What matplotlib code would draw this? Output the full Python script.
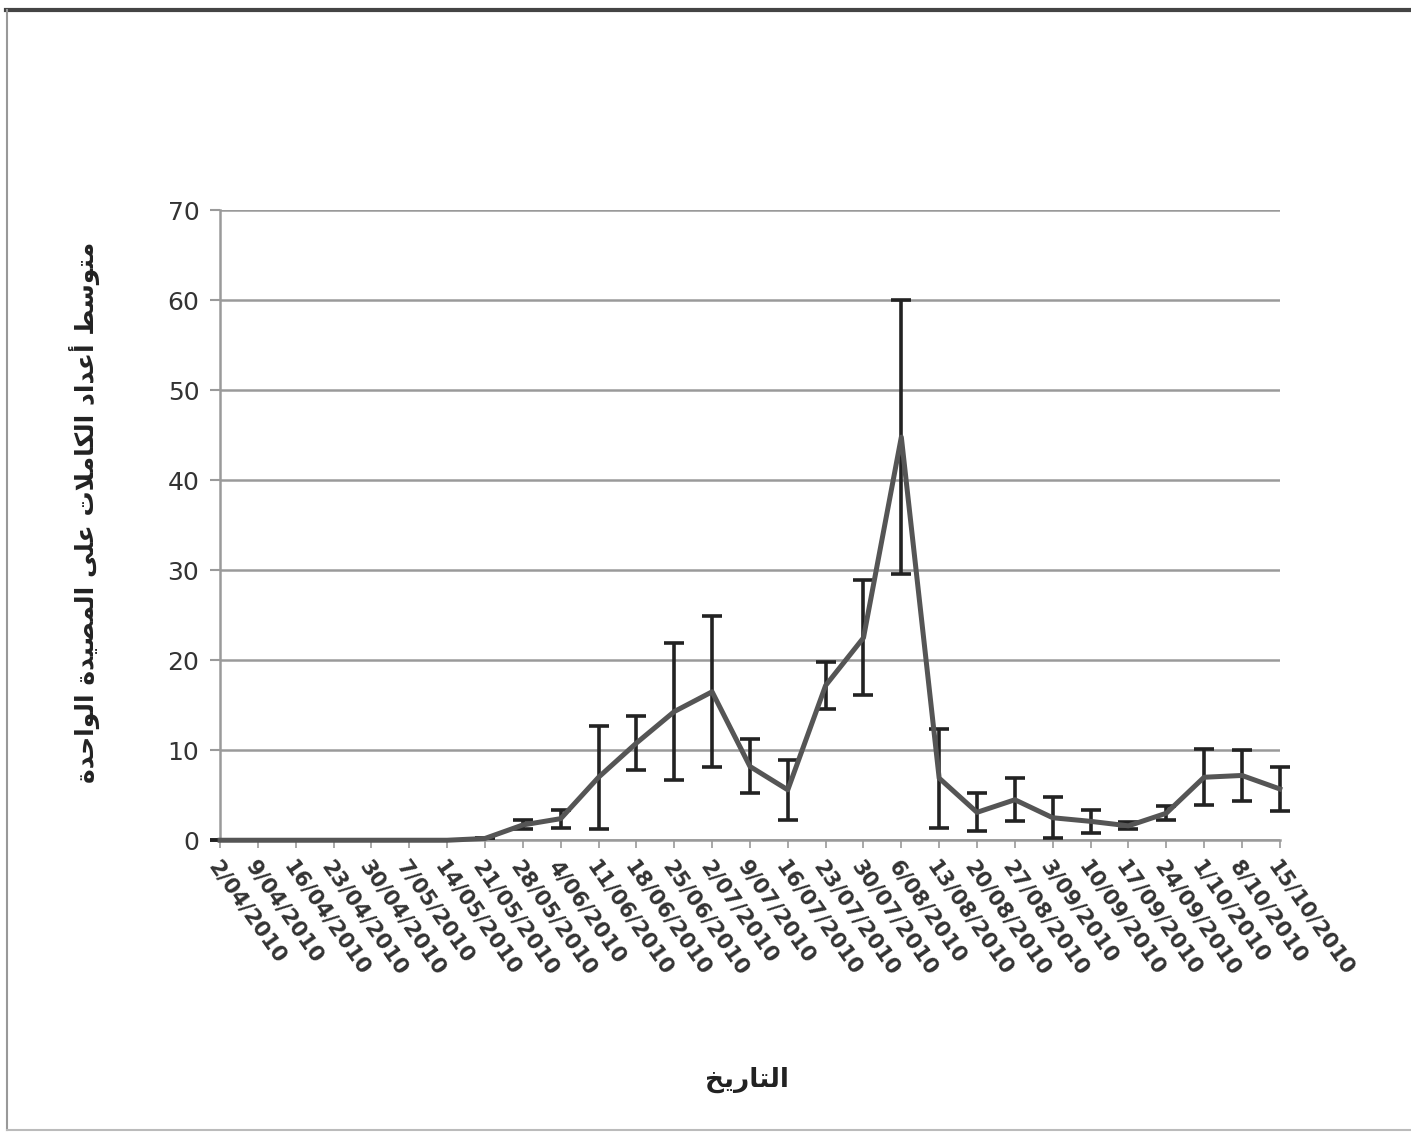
import matplotlib
matplotlib.use("Agg")
import matplotlib.pyplot as plt
from matplotlib.lines import Line2D

# ---------------- data ----------------
dates = ["2/04/2010", "9/04/2010", "16/04/2010", "23/04/2010", "30/04/2010",
         "7/05/2010", "14/05/2010", "21/05/2010", "28/05/2010", "4/06/2010",
         "11/06/2010", "18/06/2010", "25/06/2010", "2/07/2010", "9/07/2010",
         "16/07/2010", "23/07/2010", "30/07/2010", "6/08/2010", "13/08/2010",
         "20/08/2010", "27/08/2010", "3/09/2010", "10/09/2010", "17/09/2010",
         "24/09/2010", "1/10/2010", "8/10/2010", "15/10/2010"]
means = [0.0, 0.0, 0.0, 0.0, 0.0, 0.0, 0.0, 0.2, 1.7, 2.4,
         7.0, 10.8, 14.3, 16.5, 8.2, 5.6, 17.2, 22.5, 44.8, 6.9,
         3.1, 4.5, 2.5, 2.1, 1.6, 3.0, 7.0, 7.2, 5.7]
errors = [0.0, 0.0, 0.0, 0.0, 0.0, 0.0, 0.0, 0.0, 0.5, 1.0,
          5.7, 3.0, 7.6, 8.4, 3.0, 3.3, 2.6, 6.4, 15.2, 5.5,
          2.1, 2.4, 2.3, 1.3, 0.4, 0.8, 3.1, 2.8, 2.4]
yticks = [0, 10, 20, 30, 40, 50, 60, 70]
xlabel = "التاريخ"
ylabel = "متوسط أعداد الكاملات على المصيدة الواحدة"

# ------------- minimal Arabic shaping (for display) -------------
# letter: (isolated, final, initial, medial); 2-tuple = joins only to previous
FORMS = {
    "ا": (0xFE8D, 0xFE8E), "أ": (0xFE83, 0xFE84), "إ": (0xFE87, 0xFE88),
    "آ": (0xFE81, 0xFE82),
    "ب": (0xFE8F, 0xFE90, 0xFE91, 0xFE92), "ت": (0xFE95, 0xFE96, 0xFE97, 0xFE98),
    "ث": (0xFE99, 0xFE9A, 0xFE9B, 0xFE9C), "ج": (0xFE9D, 0xFE9E, 0xFE9F, 0xFEA0),
    "ح": (0xFEA1, 0xFEA2, 0xFEA3, 0xFEA4), "خ": (0xFEA5, 0xFEA6, 0xFEA7, 0xFEA8),
    "د": (0xFEA9, 0xFEAA), "ذ": (0xFEAB, 0xFEAC), "ر": (0xFEAD, 0xFEAE),
    "ز": (0xFEAF, 0xFEB0),
    "س": (0xFEB1, 0xFEB2, 0xFEB3, 0xFEB4), "ش": (0xFEB5, 0xFEB6, 0xFEB7, 0xFEB8),
    "ص": (0xFEB9, 0xFEBA, 0xFEBB, 0xFEBC), "ض": (0xFEBD, 0xFEBE, 0xFEBF, 0xFEC0),
    "ط": (0xFEC1, 0xFEC2, 0xFEC3, 0xFEC4), "ظ": (0xFEC5, 0xFEC6, 0xFEC7, 0xFEC8),
    "ع": (0xFEC9, 0xFECA, 0xFECB, 0xFECC), "غ": (0xFECD, 0xFECE, 0xFECF, 0xFED0),
    "ف": (0xFED1, 0xFED2, 0xFED3, 0xFED4), "ق": (0xFED5, 0xFED6, 0xFED7, 0xFED8),
    "ك": (0xFED9, 0xFEDA, 0xFEDB, 0xFEDC), "ل": (0xFEDD, 0xFEDE, 0xFEDF, 0xFEE0),
    "م": (0xFEE1, 0xFEE2, 0xFEE3, 0xFEE4), "ن": (0xFEE5, 0xFEE6, 0xFEE7, 0xFEE8),
    "ه": (0xFEE9, 0xFEEA, 0xFEEB, 0xFEEC), "ة": (0xFE93, 0xFE94),
    "و": (0xFEED, 0xFEEE), "ى": (0xFEEF, 0xFEF0),
    "ي": (0xFEF1, 0xFEF2, 0xFEF3, 0xFEF4),
}
LAM_ALEF = {"ا": (0xFEFB, 0xFEFC), "أ": (0xFEF7, 0xFEF8),
            "إ": (0xFEF9, 0xFEFA), "آ": (0xFEF5, 0xFEF6)}


def shape_arabic(text):
    units = []
    i = 0
    while i < len(text):
        c = text[i]
        if c == "ل" and i + 1 < len(text) and text[i + 1] in LAM_ALEF:
            units.append(("LA", text[i + 1]))
            i += 2
        else:
            units.append(("C", c))
            i += 1

    def joins_next(u):
        kind, c = u
        if kind == "LA":
            return False
        return c in FORMS and len(FORMS[c]) == 4

    def joins_prev(u):
        kind, c = u
        if kind == "LA":
            return True
        return c in FORMS

    out = []
    for k, u in enumerate(units):
        prev = units[k - 1] if k > 0 else None
        nxt = units[k + 1] if k + 1 < len(units) else None
        p = prev is not None and joins_next(prev) and joins_prev(u)
        n = nxt is not None and joins_next(u) and joins_prev(nxt)
        kind, c = u
        if kind == "LA":
            iso, fin = LAM_ALEF[c]
            out.append(chr(fin if p else iso))
            continue
        if c not in FORMS:
            out.append(c)
            continue
        f = FORMS[c]
        if len(f) == 2:
            out.append(chr(f[1] if p else f[0]))
        else:
            if p and n:
                out.append(chr(f[3]))
            elif p:
                out.append(chr(f[1]))
            elif n:
                out.append(chr(f[2]))
            else:
                out.append(chr(f[0]))
    return "".join(reversed(out))


# ---------------- figure ----------------
plt.rcParams["font.family"] = ["DejaVu Sans"]
fig = plt.figure(figsize=(14.11, 11.37), dpi=100)
ax = fig.add_axes([0.156, 0.261, 0.751, 0.554])

x = list(range(len(dates)))
eb = ax.errorbar(x, means, yerr=errors, fmt="none", ecolor="#222222",
                 elinewidth=2.6, capsize=7, capthick=2.6, zorder=3)
for art in eb.get_children():
    art.set_clip_on(False)
ax.plot(x, means, color="#555555", lw=3.6, solid_joinstyle="round",
        zorder=4, clip_on=False)

ax.set_xlim(0, len(dates) - 1)
ax.set_ylim(0, 70)
ax.set_yticks(yticks)
ax.set_yticklabels([str(v) for v in yticks], fontsize=18, color="#333333")
ax.set_xticks(x)
ax.set_xticklabels(dates, rotation=-55, ha="left", va="top",
                   rotation_mode="anchor", fontsize=15.5, color="#333333",
                   fontweight="bold")

ax.grid(axis="y", color="#9a9a9a", lw=1.8)
ax.set_axisbelow(True)
for s in ("top", "right"):
    ax.spines[s].set_visible(False)
ax.spines["left"].set_color("#9a9a9a")
ax.spines["left"].set_linewidth(1.8)
ax.spines["bottom"].set_color("#9a9a9a")
ax.spines["bottom"].set_linewidth(1.8)
ax.tick_params(axis="y", length=7, width=1.5, color="#9a9a9a", pad=8)
ax.tick_params(axis="x", length=6, width=1.2, color="#9a9a9a", pad=6)

ax.set_xlabel(shape_arabic(xlabel), fontsize=19, color="#222222",
              fontweight="bold")
ax.set_ylabel(shape_arabic(ylabel), fontsize=18, color="#222222",
              fontweight="bold")
ax.xaxis.set_label_coords(0.497, -0.36)
ax.yaxis.set_label_coords(-0.113, 0.52)

# chart-area border
fig.add_artist(Line2D([0.004, 1.0], [0.991, 0.991], transform=fig.transFigure,
                      color="#444444", lw=3))
fig.add_artist(Line2D([0.005, 0.005], [0.006, 0.991], transform=fig.transFigure,
                      color="#999999", lw=1.5))
fig.add_artist(Line2D([0.005, 1.0], [0.006, 0.006], transform=fig.transFigure,
                      color="#bbbbbb", lw=1.5))

fig.savefig("out.png", dpi=100)
